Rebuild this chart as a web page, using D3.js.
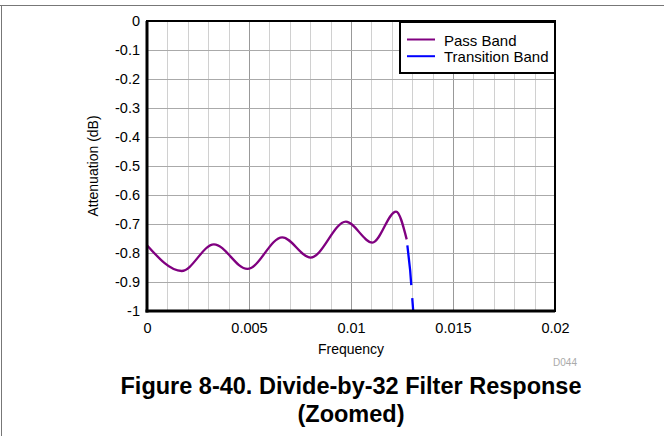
<!DOCTYPE html>
<html><head><meta charset="utf-8">
<script src="https://cdn.jsdelivr.net/npm/d3@7"></script>
<style>
html,body{margin:0;padding:0;background:#fff;}
svg{display:block;font-family:"Liberation Sans",Arial,Helvetica,sans-serif;}
</style></head>
<body>
<svg id="c" width="664" height="436"></svg>
<script>
// Data
const passFreq = [0, 0.0017, 0.00328, 0.00492, 0.00663, 0.00802, 0.00975, 0.01105, 0.01221, 0.01273];
const passAtt  = [-0.773, -0.862, -0.770, -0.855, -0.746, -0.816, -0.692, -0.764, -0.657, -0.753];
const transFreq = [0.01273, 0.01290, 0.01305, 0.01310];
const transAtt  = [-0.753, -0.86, -1.0, -1.04];
const xTicks = [0, 0.005, 0.01, 0.015, 0.02];
const xTickLabels = ["0", "0.005", "0.01", "0.015", "0.02"];
const yTicks = [0, -0.1, -0.2, -0.3, -0.4, -0.5, -0.6, -0.7, -0.8, -0.9, -1];
const yTickLabels = ["0", "-0.1", "-0.2", "-0.3", "-0.4", "-0.5", "-0.6", "-0.7", "-0.8", "-0.9", "-1"];
const seriesNames = ["Pass Band", "Transition Band"];
const seriesColors = ["#800080", "#0000ff"];

const svg = d3.select("#c");
const L = 147, R = 555, T = 21, B = 311;
const x = d3.scaleLinear().domain([0, 0.02]).range([L, R]);
const y = d3.scaleLinear().domain([-1, 0]).range([B, T]);
const FONT = "Liberation Sans, Arial, sans-serif";

// outer frame
svg.append("line").attr("x1", 0).attr("x2", 664).attr("y1", 5.5).attr("y2", 5.5).attr("stroke", "#777").attr("stroke-width", 1);
svg.append("line").attr("x1", 1.5).attr("x2", 1.5).attr("y1", 5).attr("y2", 436).attr("stroke", "#777").attr("stroke-width", 1);

// grid: minor vertical
const minor = d3.range(1, 20).map(i => i * 0.001).filter(v => Math.abs(v / 0.005 - Math.round(v / 0.005)) > 1e-6);
svg.append("g").selectAll("line").data(minor).join("line")
  .attr("x1", d => Math.round(x(d)) + 0.5).attr("x2", d => Math.round(x(d)) + 0.5)
  .attr("y1", T).attr("y2", B).attr("stroke", "#d0d0d0").attr("stroke-width", 1);
// major vertical
svg.append("g").selectAll("line").data(xTicks.slice(1, -1)).join("line")
  .attr("x1", d => Math.round(x(d)) + 0.5).attr("x2", d => Math.round(x(d)) + 0.5)
  .attr("y1", T).attr("y2", B).attr("stroke", "#999").attr("stroke-width", 1);
// horizontal
svg.append("g").selectAll("line").data(yTicks.slice(1, -1)).join("line")
  .attr("x1", L).attr("x2", R)
  .attr("y1", d => Math.round(y(d)) + 0.5).attr("y2", d => Math.round(y(d)) + 0.5)
  .attr("stroke", "#aaa").attr("stroke-width", 1);

// axes (labels)
const xAxis = d3.axisBottom(x).tickValues(xTicks).tickFormat((d, i) => xTickLabels[i]).tickSize(0).tickPadding(12);
const gx = svg.append("g").attr("transform", `translate(0,${B})`).call(xAxis);
gx.select(".domain").remove();
gx.selectAll("text").attr("font-size", 14.5).attr("fill", "#000").attr("font-family", FONT);

const yAxis = d3.axisLeft(y).tickValues(yTicks).tickFormat((d, i) => yTickLabels[i]).tickSize(0).tickPadding(7);
const gy = svg.append("g").attr("transform", `translate(${L},0)`).call(yAxis);
gy.select(".domain").remove();
gy.selectAll("text").attr("font-size", 14.5).attr("fill", "#000").attr("font-family", FONT);

// clip
svg.append("clipPath").attr("id", "clip").append("rect").attr("x", L).attr("y", T).attr("width", R - L).attr("height", B - T);

const line = d3.line().x(d => x(d[0])).y(d => y(d[1])).curve(d3.curveMonotoneX);
const transPts = transFreq.map((f, i) => [f, transAtt[i]]);
svg.append("path").attr("clip-path", "url(#clip)")
  .attr("d", d3.line().x(d => x(d[0])).y(d => y(d[1])).curve(d3.curveLinear)(transPts))
  .attr("fill", "none").attr("stroke", seriesColors[1]).attr("stroke-width", 2.3)
  .attr("stroke-dasharray", "40,13").attr("stroke-dashoffset", 47);
const passPts = passFreq.map((f, i) => [f, passAtt[i]]);
svg.append("path").attr("clip-path", "url(#clip)")
  .attr("d", line(passPts)).attr("fill", "none").attr("stroke", seriesColors[0]).attr("stroke-width", 2.3);

// plot frame
svg.append("rect").attr("x", L).attr("y", T).attr("width", R - L).attr("height", B - T)
  .attr("fill", "none").attr("stroke", "#000").attr("stroke-width", 2);
svg.append("line").attr("x1", L).attr("x2", L).attr("y1", T).attr("y2", B + 1.5).attr("stroke", "#000").attr("stroke-width", 3);
svg.append("line").attr("x1", L - 1.5).attr("x2", R).attr("y1", B).attr("y2", B).attr("stroke", "#000").attr("stroke-width", 3);

// legend
const lg = svg.append("g");
lg.append("rect").attr("x", 400).attr("y", 22).attr("width", 155).attr("height", 51)
  .attr("fill", "#fff").attr("stroke", "#000").attr("stroke-width", 2);
seriesNames.forEach((n, i) => {
  const yy = 39.5 + i * 16.7;
  lg.append("line").attr("x1", 407).attr("x2", 435).attr("y1", yy).attr("y2", yy)
    .attr("stroke", seriesColors[i]).attr("stroke-width", 2);
  lg.append("text").attr("x", 444).attr("y", yy + 6).attr("font-size", 15).attr("fill", "#000").text(n);
});

// axis titles
svg.append("text").attr("x", (L + R) / 2).attr("y", 354).attr("text-anchor", "middle").attr("font-size", 14).text("Frequency");
svg.append("text").attr("transform", `translate(98,${(T + B) / 2}) rotate(-90)`).attr("text-anchor", "middle").attr("font-size", 14).text("Attenuation (dB)");
svg.append("text").attr("x", 565).attr("y", 366).attr("text-anchor", "middle").attr("font-size", 10).attr("fill", "#aaa").text("D044");

// title
svg.append("text").attr("x", 351).attr("y", 394).attr("text-anchor", "middle").attr("font-size", 23.5).attr("font-weight", "bold").text("Figure 8-40. Divide-by-32 Filter Response");
svg.append("text").attr("x", 351).attr("y", 422).attr("text-anchor", "middle").attr("font-size", 23.5).attr("font-weight", "bold").text("(Zoomed)");
</script>
</body></html>
